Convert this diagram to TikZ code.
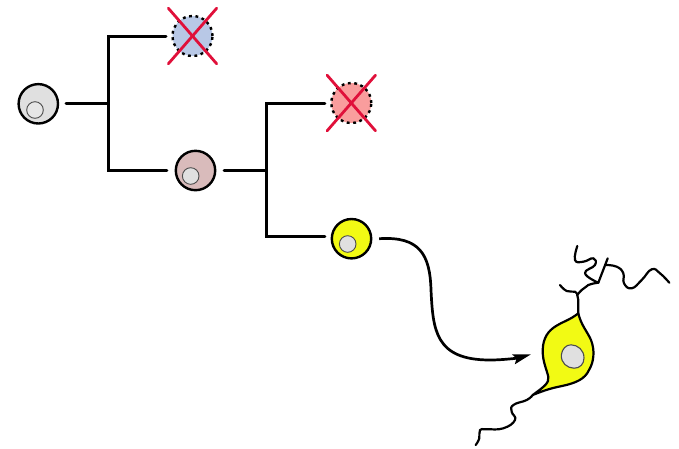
\documentclass[tikz,border=0pt]{standalone}
\usetikzlibrary{arrows.meta}
\definecolor{cellgrey}{HTML}{E0E0E0}
\definecolor{cellblue}{HTML}{B8C8E6}
\definecolor{cellred}{HTML}{F99D9D}
\definecolor{cellpink}{HTML}{D9BBBB}
\definecolor{cellyellow}{HTML}{F2FA14}
\definecolor{crossred}{HTML}{E0103A}
\tikzset{
	cell/.style={circle, draw=black, line width=2.4pt, minimum size=39.4pt, inner sep=0pt, outer sep=8pt},
	dead/.style={circle, draw=black, line width=2.4pt, dash pattern=on 2.8pt off 3.6pt, minimum size=40pt, inner sep=0pt, outer sep=6.5pt},
	nucleus/.style={circle, draw=black!70, line width=0.9pt, fill=cellgrey, minimum size=16.6pt, inner sep=0pt},
	branch/.style={line width=3pt, line join=miter, line cap=round},
	crossline/.style={line width=2.8pt, crossred, line cap=round},
	neurite/.style={line width=2.2pt, line cap=round, line join=round}
}
\begin{document}
\begin{tikzpicture}[x=1pt, y=-1pt]
	\useasboundingbox (0,0) rectangle (679,448);
	% dang te bao
	\node (c0) at (38.3,103.8) [cell, fill=cellgrey]{};
	\node (c1) at (192.5,36) [dead, fill=cellblue]{};
	\node (c2) at (195.5,170.5) [cell, outer sep=9pt, fill=cellpink]{};
	\node (c3) at (351.3,103) [dead, fill=cellred]{};
	\node (c4) at (351.5,238.7) [cell, outer sep=7pt, fill=cellyellow]{};
	\node (n0) at (35,110) [nucleus, fill=cellgrey!80!white]{};
	\node (n2) at (190.7,176) [nucleus]{};
	\node (n4) at (347.7,244) [nucleus]{};
	% nhanh
	\coordinate (j0) at (108,103.8);
	\coordinate (j0a) at (108,36);
	\coordinate (j0b) at (108,170.5);
	\coordinate (j2) at (266,170.5);
	\coordinate (j2a) at (266,103);
	\coordinate (j2b) at (266,236.7);
	\draw[branch] (c0.east)--(j0);
	\draw[branch] (c1.west)--(j0a)--(j0b)--(c2.west);
	\draw[branch] (c2.east)--(j2);
	\draw[branch] (c3.west)--(j2a)--(j2b)--(j2b -| c4.west);
	% dau gach cheo
	\foreach \c in {c1,c3}{
		\draw[crossline] (\c.center)+(-24.2,-27.8)--+(24.2,27.8);
		\draw[crossline] (\c.center)+(24.2,-27.8)--+(-24.2,27.8);
	}
	% than neuron
	\coordinate (soma) at (578.3,313.3);
	\coordinate (base) at (532.7,395);
	\draw[neurite, fill=cellyellow] (soma)
		.. controls (570,320) and (562,322) .. (556,326)
		.. controls (548,331) and (543,338) .. (542.7,350)
		.. controls (542.5,362) and (547,370) .. (548.3,377)
		.. controls (549,383) and (545,386) .. (base)
		.. controls (545,390) and (552,388) .. (562,386)
		.. controls (576,383) and (585,379) .. (589,370)
		.. controls (594,362) and (595,350) .. (591,340)
		.. controls (587,331) and (581,325) .. (soma)--cycle;
	\draw[line width=1.1pt, draw=black!70, fill=cellgrey] (561.3,355)
		.. controls (562,349) and (566,344.7) .. (571,344.8)
		.. controls (578,345) and (584,350) .. (584,358)
		.. controls (584,364) and (580,368.3) .. (574,368.2)
		.. controls (567,368) and (561,363) .. (561.3,355)--cycle;
	% soi nhanh
	\coordinate (fork) at (577.3,295);
	\coordinate (knot) at (598.3,282.7);
	\coordinate (spur) at (605.7,265);
	\draw[neurite] (soma)--(578.3,300)--(fork);
	\draw[neurite] plot[smooth, tension=0.8] coordinates {(fork) (575,291.7) (566.7,291) (560,285)};
	\draw[neurite] plot[smooth, tension=0.8] coordinates {(fork) (581.7,290) (588.3,285) (knot)};
	\draw[neurite] (knot)--(607.7,258.3);
	\draw[neurite] plot[smooth, tension=0.8] coordinates {(knot) (585,273.3) (595,265) (593.3,258.3) (583.3,261.7) (575,260) (577.3,246)};
	\draw[neurite] plot[smooth, tension=0.8] coordinates {(spur) (616.7,266.7) (623.3,273.3) (624,283.3) (631.7,288.3) (641.7,280) (651.7,269.3) (660,273.3) (669.3,282.7)};
	\draw[neurite] plot[smooth, tension=0.8] coordinates {(base) (526.7,400) (513.3,405) (511.7,411.7) (515,420) (503.3,428.3) (486.7,429.3) (480,430) (479.3,438.3) (475.7,445)};
	% mui ten cong
	\coordinate (tip) at (531,354.3);
	\draw[-{Stealth[length=18pt,width=10pt,inset=3pt]}, line width=2.7pt] ([xshift=1pt]c4.east)
		.. controls (420,236) and (430,255) .. (431,290)
		.. controls (433,330) and (435,360) .. (490,360)
		.. controls (503,360) and (518,358) .. (tip);
\end{tikzpicture}
\end{document}
